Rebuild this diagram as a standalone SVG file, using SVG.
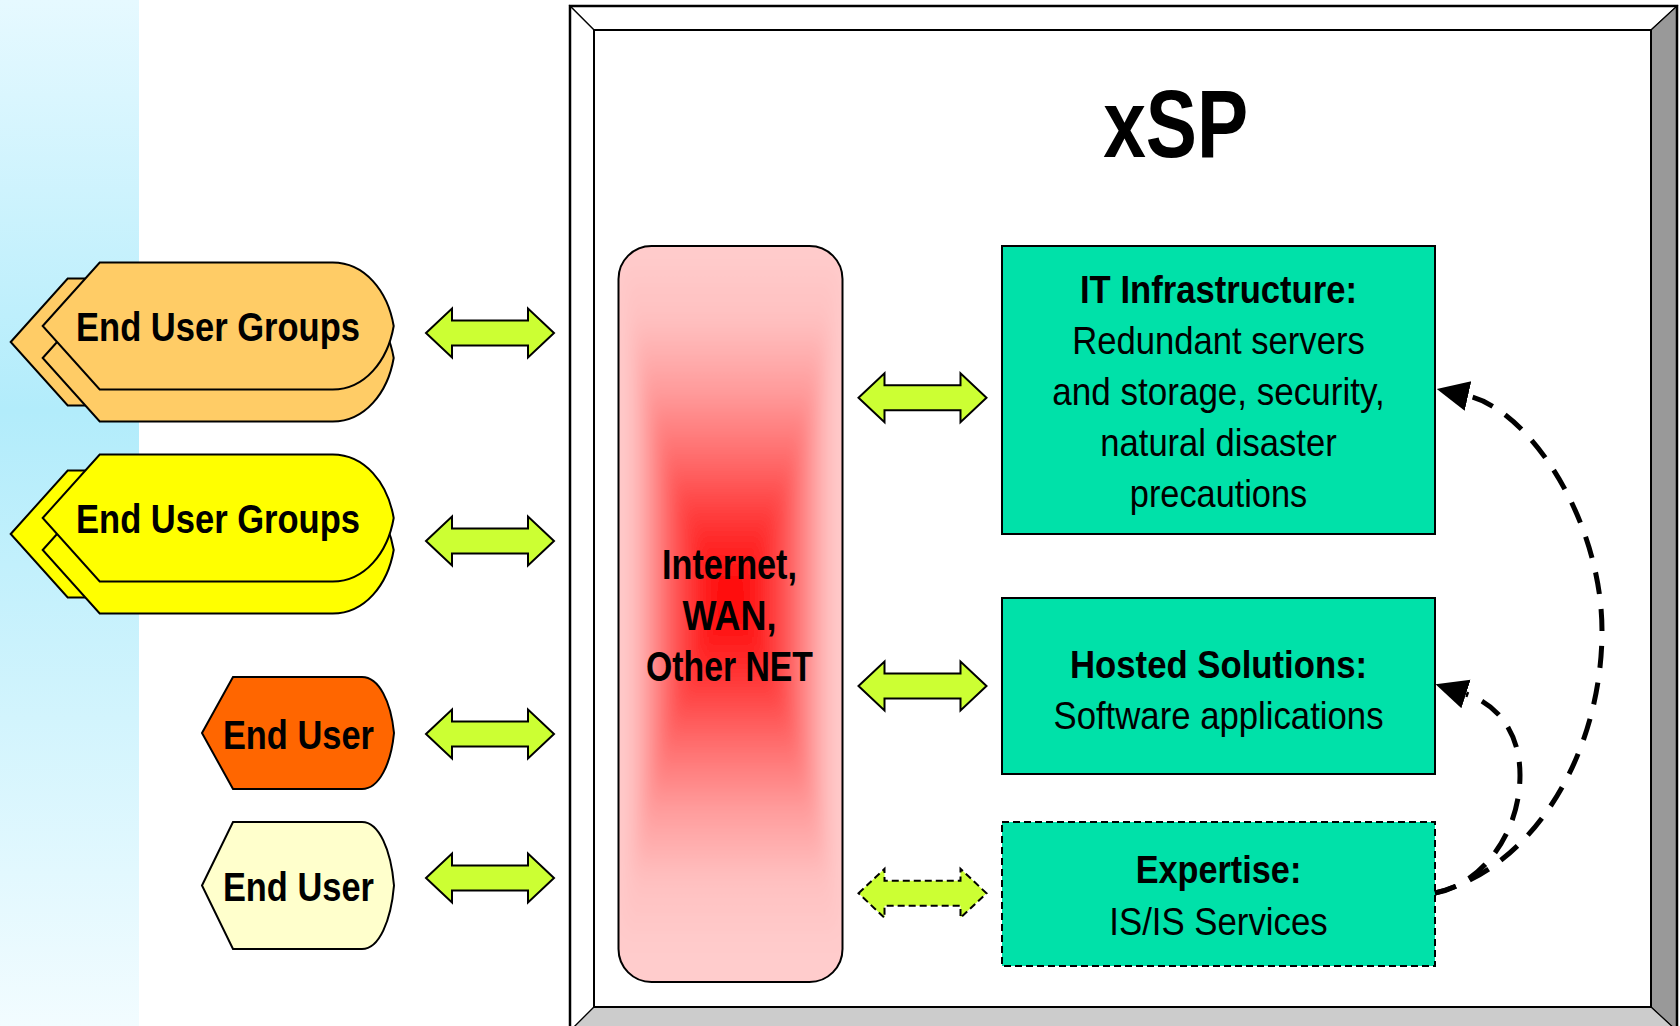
<svg xmlns="http://www.w3.org/2000/svg" width="1680" height="1026" viewBox="0 0 1680 1026">
  <style>
    text { font-family: "Liberation Sans", Arial, sans-serif; fill: #000; }
    .b { font-weight: bold; }
    .t40 { font-size: 40px; }
    .t39 { font-size: 39.5px; }
    .edge { stroke: #000; stroke-width: 2; stroke-linejoin: miter; }
    .box { fill: #00e1a9; stroke: #000; stroke-width: 2; }
    .dashed { stroke-dasharray: 7 4; }
    .arrow { fill: #ccff33; stroke: #000; stroke-width: 2; stroke-linejoin: miter; }
    .flow { fill: none; stroke: #000; stroke-width: 5; stroke-dasharray: 22 15; marker-end: url(#head); }
    .bevel { stroke: #000; stroke-width: 1.2; stroke-linejoin: miter; }
  </style>
  <defs>
    <linearGradient id="stripFill" x1="0" y1="0" x2="0" y2="1">
      <stop offset="0" stop-color="#e6f9ff"/>
      <stop offset="0.4" stop-color="#b2ecfb"/>
      <stop offset="1" stop-color="#f2fcff"/>
    </linearGradient>
    <!-- rectangular "from centre" fill built from two ramps combined with lighten -->
    <linearGradient id="netH" gradientUnits="userSpaceOnUse" x1="618.5" y1="0" x2="842.5" y2="0">
      <stop offset="0" stop-color="#ffcccc"/>
      <stop offset="0.06" stop-color="#ffc2c2"/>
      <stop offset="0.14" stop-color="#ff9696"/>
      <stop offset="0.25" stop-color="#ff5656"/>
      <stop offset="0.37" stop-color="#ff2222"/>
      <stop offset="0.5" stop-color="#ff0000"/>
      <stop offset="0.63" stop-color="#ff2222"/>
      <stop offset="0.75" stop-color="#ff5656"/>
      <stop offset="0.86" stop-color="#ff9696"/>
      <stop offset="0.94" stop-color="#ffc2c2"/>
      <stop offset="1" stop-color="#ffcccc"/>
    </linearGradient>
    <linearGradient id="netV" gradientUnits="userSpaceOnUse" x1="0" y1="250" x2="0" y2="950">
      <stop offset="0" stop-color="#ffcccc"/>
      <stop offset="0.1" stop-color="#ffc0c0"/>
      <stop offset="0.2" stop-color="#ff9c9c"/>
      <stop offset="0.3" stop-color="#ff6a6a"/>
      <stop offset="0.4" stop-color="#ff3030"/>
      <stop offset="0.5" stop-color="#ff0000"/>
      <stop offset="0.6" stop-color="#ff3030"/>
      <stop offset="0.7" stop-color="#ff6a6a"/>
      <stop offset="0.8" stop-color="#ff9c9c"/>
      <stop offset="0.9" stop-color="#ffc0c0"/>
      <stop offset="1" stop-color="#ffcccc"/>
    </linearGradient>
    <clipPath id="netClip">
      <rect x="618.5" y="246" width="224" height="736" rx="33"/>
    </clipPath>
    <filter id="soften" x="-20%" y="-10%" width="140%" height="120%">
      <feGaussianBlur stdDeviation="8"/>
    </filter>
    <!-- pointed-left / rounded-right "display" outline, origin at the left point -->
    <path id="grpShape" d="M0,0 L57,-63.5 L290,-63.5 C322,-63.5 345,-35 351,0 C345,35 322,63.5 290,63.5 L57,63.5 Z"/>
    <!-- double-headed block arrow, origin at the left tip -->
    <path id="dblArrow" d="M0,0 L26,-24.5 L26,-12.5 L102,-12.5 L102,-24.5 L128,0 L102,24.5 L102,12.5 L26,12.5 L26,24.5 Z"/>
    <marker id="head" markerUnits="userSpaceOnUse" viewBox="0 -17 34 34" markerWidth="34" markerHeight="34" refX="0" refY="0" orient="auto">
      <path d="M0,-15 L32,0 L0,15 Z" fill="#000"/>
    </marker>
  </defs>

  <!-- background -->
  <rect x="0" y="0" width="1680" height="1026" fill="#fff"/>
  <rect x="0" y="0" width="139" height="1026" fill="url(#stripFill)"/>

  <!-- bevelled xSP frame -->
  <g id="xsp-frame">
    <polygon class="bevel" points="570,6 1677,6 1651,30 594,30" fill="#fff"/>
    <polygon class="bevel" points="570,6 594,30 594,1007 570,1031" fill="#fff"/>
    <polygon class="bevel" points="1677,6 1677,1031 1651,1007 1651,30" fill="#999"/>
    <polygon class="bevel" points="570,1031 594,1007 1651,1007 1677,1031" fill="#ccc"/>
    <rect x="594" y="30" width="1057" height="977" fill="#fff" stroke="#000" stroke-width="2"/>
    <rect x="570" y="6" width="1107" height="1025" fill="none" stroke="#000" stroke-width="2.5"/>
    <text class="b" x="1175.7" y="157" font-size="97" text-anchor="middle" textLength="145" lengthAdjust="spacingAndGlyphs">xSP</text>
  </g>

  <!-- network cloud -->
  <g id="network">
    <rect x="618.5" y="246" width="224" height="736" rx="33" fill="#ffcccc"/>
    <g clip-path="url(#netClip)">
      <g filter="url(#soften)" style="isolation:isolate">
        <rect x="590" y="220" width="280" height="790" fill="url(#netH)"/>
        <rect x="590" y="220" width="280" height="790" fill="url(#netV)" style="mix-blend-mode:lighten"/>
      </g>
    </g>
    <rect x="618.5" y="246" width="224" height="736" rx="33" fill="none" stroke="#000" stroke-width="2"/>
    <text class="b" x="729.5" y="579" font-size="42" text-anchor="middle" textLength="135" lengthAdjust="spacingAndGlyphs">Internet,</text>
    <text class="b" x="729.5" y="630" font-size="42" text-anchor="middle" textLength="94" lengthAdjust="spacingAndGlyphs">WAN,</text>
    <text class="b" x="729.5" y="681" font-size="42" text-anchor="middle" textLength="167" lengthAdjust="spacingAndGlyphs">Other NET</text>
  </g>

  <!-- service boxes -->
  <g id="it-infrastructure">
    <rect class="box" x="1002" y="246" width="433" height="288"/>
    <text class="b t39" x="1218.5" y="303.3" text-anchor="middle" textLength="277" lengthAdjust="spacingAndGlyphs">IT Infrastructure:</text>
    <text class="t39" x="1218.5" y="354.3" text-anchor="middle" textLength="292.6" lengthAdjust="spacingAndGlyphs">Redundant servers</text>
    <text class="t39" x="1218.5" y="405" text-anchor="middle" textLength="332.3" lengthAdjust="spacingAndGlyphs">and storage, security,</text>
    <text class="t39" x="1218.5" y="456" text-anchor="middle" textLength="236.3" lengthAdjust="spacingAndGlyphs">natural disaster</text>
    <text class="t39" x="1218.5" y="506.7" text-anchor="middle" textLength="177.4" lengthAdjust="spacingAndGlyphs">precautions</text>
  </g>
  <g id="hosted-solutions">
    <rect class="box" x="1002" y="598" width="433" height="176"/>
    <text class="b t39" x="1218.5" y="678" text-anchor="middle" textLength="297" lengthAdjust="spacingAndGlyphs">Hosted Solutions:</text>
    <text class="t39" x="1218.5" y="728.6" text-anchor="middle" textLength="330" lengthAdjust="spacingAndGlyphs">Software applications</text>
  </g>
  <g id="expertise">
    <rect class="box dashed" x="1002" y="822" width="433" height="144"/>
    <text class="b t39" x="1218.5" y="883.3" text-anchor="middle" textLength="165.7" lengthAdjust="spacingAndGlyphs">Expertise:</text>
    <text class="t39" x="1218.5" y="935" text-anchor="middle" textLength="218.4" lengthAdjust="spacingAndGlyphs">IS/IS Services</text>
  </g>

  <!-- end user nodes -->
  <g id="end-user-groups-1" class="edge" fill="#ffcc66">
    <use href="#grpShape" x="10.7" y="342"/>
    <use href="#grpShape" x="42.7" y="358"/>
    <use href="#grpShape" x="42.7" y="326"/>
  </g>
  <text class="b t40" x="218" y="340.7" text-anchor="middle" textLength="284" lengthAdjust="spacingAndGlyphs">End User Groups</text>

  <g id="end-user-groups-2" class="edge" fill="#ffff00">
    <use href="#grpShape" x="10.7" y="534"/>
    <use href="#grpShape" x="42.7" y="550"/>
    <use href="#grpShape" x="42.7" y="518"/>
  </g>
  <text class="b t40" x="218" y="533" text-anchor="middle" textLength="284" lengthAdjust="spacingAndGlyphs">End User Groups</text>

  <g id="end-user-1">
    <path class="edge" fill="#ff6600" d="M202,733 L233,677 L362,677 C379,677 391,702 394,733 C391,764 379,789 362,789 L233,789 Z"/>
    <text class="b t40" x="298.4" y="749" text-anchor="middle" textLength="151" lengthAdjust="spacingAndGlyphs">End User</text>
  </g>
  <g id="end-user-2">
    <path class="edge" fill="#ffffcc" d="M202,885.5 L233,822 L362,822 C379,822 391,850 394,885.5 C391,921 379,949 362,949 L233,949 Z"/>
    <text class="b t40" x="298.4" y="900.7" text-anchor="middle" textLength="151" lengthAdjust="spacingAndGlyphs">End User</text>
  </g>

  <!-- connectors -->
  <g id="connectors">
    <use href="#dblArrow" class="arrow" x="426" y="333"/>
    <use href="#dblArrow" class="arrow" x="426" y="541"/>
    <use href="#dblArrow" class="arrow" x="426" y="734"/>
    <use href="#dblArrow" class="arrow" x="426" y="878"/>
    <use href="#dblArrow" class="arrow" x="858.5" y="397.7"/>
    <use href="#dblArrow" class="arrow" x="858.5" y="686"/>
    <use href="#dblArrow" class="arrow dashed" x="858.5" y="893.3"/>
    <path class="flow" d="M1435,893 C1535,868 1602,751 1602,631 C1602,521 1530,410 1468,396"/>
    <path class="flow" d="M1435,893 C1480,885 1520,835 1520,775 C1520,735 1500,705 1466,694"/>
  </g>
</svg>
